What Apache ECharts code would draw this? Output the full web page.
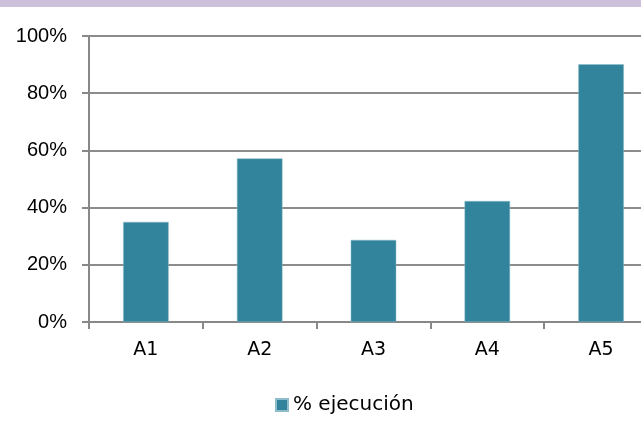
<!DOCTYPE html>
<html>
<head>
<meta charset="utf-8">
<script src="https://cdn.jsdelivr.net/npm/echarts@6/dist/echarts.min.js"></script>
<style>
  html, body { margin: 0; padding: 0; background: #fff; overflow: hidden; }
  /* the plot runs past the right edge in the original, so the canvas is wider than the window */
  #chart { width: 658px; height: 432px; }
</style>
</head>
<body>
<div id="chart"></div>
<script>
var categories = ['A1', 'A2', 'A3', 'A4', 'A5'];
var ejecucion = [35, 57.2, 28.7, 42.3, 90.1];
var seriesName = '% ejecución';

var myChart = echarts.init(document.getElementById('chart'));

var option = {
    animation: false,
    graphic: [{
        type: 'rect',
        left: 0, top: 0,
        shape: { width: 658, height: 7 },
        style: { fill: '#ccc0da' }
    }],
    legend: {
        data: [seriesName],
        left: 275,
        top: 395,
        padding: 0,
        itemWidth: 12,
        itemHeight: 12,
        itemGap: 5,
        icon: 'rect',
        textStyle: { fontFamily: 'DejaVu Sans', fontSize: 20, color: '#000', padding: [0, 0, 0, 0] }
    },
    grid: {
        left: 89,
        top: 36,
        right: 0,
        bottom: 110,
        containLabel: false
    },
    xAxis: {
        type: 'category',
        data: categories,
        axisLine: { lineStyle: { color: '#888', width: 2 } },
        axisTick: { show: true, length: 7, lineStyle: { color: '#888', width: 2 } },
        axisLabel: { fontFamily: 'DejaVu Sans', fontSize: 19, color: '#000', margin: 19 }
    },
    yAxis: {
        type: 'value',
        min: 0,
        max: 100,
        interval: 20,
        axisLine: { show: true, lineStyle: { color: '#888', width: 2 } },
        axisTick: { show: true, length: 7, lineStyle: { color: '#888', width: 2 } },
        axisLabel: {
            formatter: '{value}%',
            fontFamily: 'Liberation Sans',
            fontSize: 20,
            color: '#000',
            margin: 22
        },
        splitLine: { lineStyle: { color: '#8c8c8c', width: 2 } }
    },
    series: [{
        name: seriesName,
        type: 'bar',
        data: ejecucion,
        barCategoryGap: '60%',
        itemStyle: { color: '#31849b', borderColor: '#8fbccb', borderWidth: 0.5 }
    }]
};

myChart.setOption(option);
</script>
</body>
</html>
